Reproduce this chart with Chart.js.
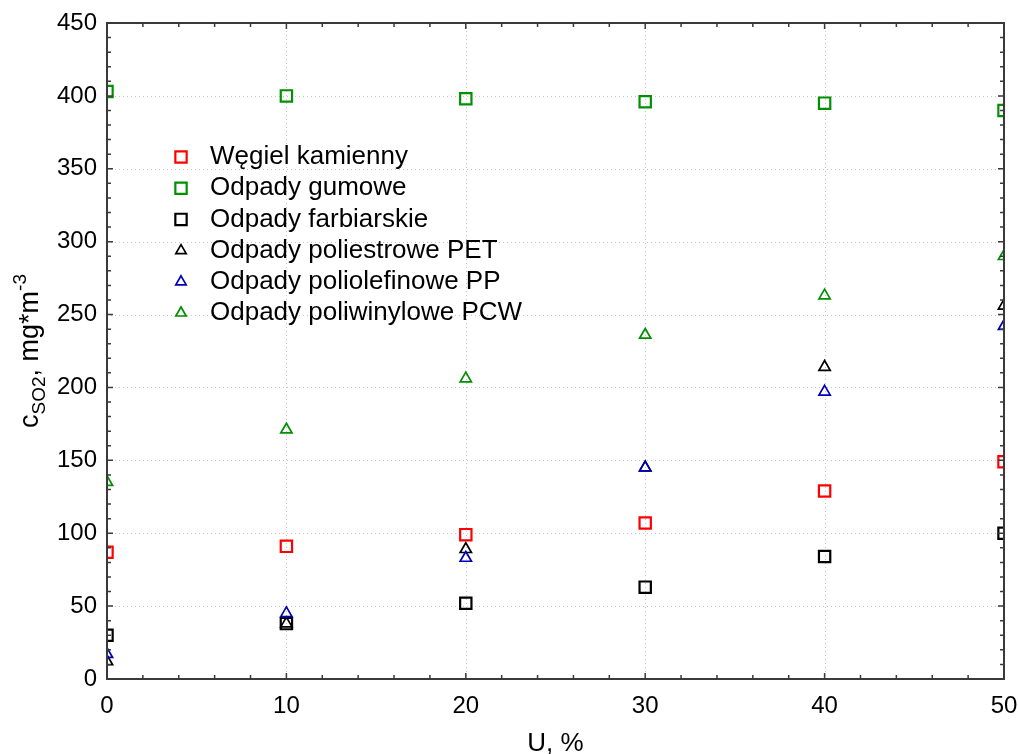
<!DOCTYPE html>
<html>
<head>
<meta charset="utf-8">
<script src="https://cdn.jsdelivr.net/npm/chart.js@4"></script>
<style>
  html, body { margin: 0; padding: 0; background: #fff; }
  #wrap { width: 1018px; height: 754px; }
</style>
</head>
<body>
<div id="wrap"><canvas id="wykres"></canvas></div>
<script>
// udział odpadu U, %
const udzial = [0, 10, 20, 30, 40, 50];

// stężenie SO2, mg/m3
const wegiel        = [87, 91, 99, 107, 129, 149];
const gumowe        = [403, 400, 398, 396, 395, 390];
const farbiarskie   = [30, 38, 52, 63, 84, 100];
const poliestrowe   = [12, 38, 89, 145, 214, 256];
const poliolefinowe = [17, 45, 83, 145, 197, 242];
const poliwinylowe  = [135, 171, 206, 236, 263, 290];

const FONT = '"Liberation Sans", Arial, sans-serif';

function punkty(wartosci) {
    return udzial.map((u, i) => ({ x: u, y: wartosci[i] }));
}

function seria(nazwa, wartosci, kolor, ksztalt, kolejnosc) {
    return {
        label: nazwa,
        data: punkty(wartosci),
        pointStyle: ksztalt,
        pointRadius: ksztalt === 'rect' ? 8 : 6.5,
        pointBorderWidth: ksztalt === 'rect' ? 2.2 : 1.7,
        borderColor: kolor,
        backgroundColor: 'rgba(0,0,0,0)',
        pointBackgroundColor: 'rgba(0,0,0,0)',
        showLine: false,
        clip: 0,
        order: kolejnosc || 0
    };
}

// ramka, znaczniki osi, siatka kropkowana, legenda i opisy osi
const dodatki = {
    id: 'dodatki',
    beforeDatasetsDraw(chart) {
        const { ctx, chartArea: a, scales: { x, y } } = chart;
        ctx.save();
        ctx.strokeStyle = '#c4c4c4';
        ctx.lineWidth = 1;
        ctx.setLineDash([1, 3]);
        for (let v = 10; v < 50; v += 10) {
            const px = Math.round(x.getPixelForValue(v)) + 0.5;
            ctx.beginPath(); ctx.moveTo(px, a.top); ctx.lineTo(px, a.bottom); ctx.stroke();
        }
        for (let v = 50; v < 450; v += 50) {
            const py = Math.round(y.getPixelForValue(v)) + 0.5;
            ctx.beginPath(); ctx.moveTo(a.left, py); ctx.lineTo(a.right, py); ctx.stroke();
        }
        ctx.restore();
    },
    afterDatasetsDraw(chart) {
        const { ctx, chartArea: a, scales: { x, y } } = chart;
        ctx.save();
        ctx.strokeStyle = '#3a3a3a';
        ctx.lineWidth = 2;
        ctx.strokeRect(a.left, a.top, a.right - a.left, a.bottom - a.top);

        ctx.lineWidth = 1.5;
        for (let v = 0; v <= 50; v += 2) {
            const px = x.getPixelForValue(v);
            const dl = v % 10 === 0 ? 6 : 4;
            ctx.beginPath();
            ctx.moveTo(px, a.bottom); ctx.lineTo(px, a.bottom - dl);
            ctx.moveTo(px, a.top); ctx.lineTo(px, a.top + dl);
            ctx.stroke();
        }
        for (let v = 0; v <= 450; v += 10) {
            const py = y.getPixelForValue(v);
            const dl = v % 50 === 0 ? 6 : 4;
            ctx.beginPath();
            ctx.moveTo(a.left, py); ctx.lineTo(a.left + dl, py);
            ctx.moveTo(a.right, py); ctx.lineTo(a.right - dl, py);
            ctx.stroke();
        }

        // legenda
        const lx = 181, ly = 157, krok = 31.2;
        chart.data.datasets.forEach((ds, i) => {
            const yy = ly + i * krok;
            ctx.strokeStyle = ds.borderColor;
            ctx.fillStyle = 'rgba(0,0,0,0)';
            ctx.lineWidth = ds.pointBorderWidth;
            Chart.helpers.drawPoint(ctx, {
                pointStyle: ds.pointStyle,
                radius: ds.pointStyle === 'rect' ? 8 : 6,
                rotation: 0,
                borderWidth: ds.pointBorderWidth
            }, lx, yy);
            ctx.fillStyle = '#000';
            ctx.font = '26px ' + FONT;
            ctx.textBaseline = 'middle';
            ctx.textAlign = 'left';
            ctx.fillText(ds.label, 210, yy);
        });

        // opis osi X
        ctx.fillStyle = '#000';
        ctx.textAlign = 'center';
        ctx.textBaseline = 'alphabetic';
        ctx.font = '26px ' + FONT;
        ctx.fillText('U, %', (a.left + a.right) / 2, 751);

        // opis osi Y z indeksem dolnym i górnym
        const czesci = [
            { t: 'c', f: 27, dy: 0 },
            { t: 'SO2', f: 19, dy: 7 },
            { t: ', mg*m', f: 27, dy: 0 },
            { t: '-3', f: 19, dy: -12 }
        ];
        let szer = 0;
        czesci.forEach(c => { ctx.font = c.f + 'px ' + FONT; c.w = ctx.measureText(c.t).width; szer += c.w; });
        ctx.translate(38, (a.top + a.bottom) / 2);
        ctx.rotate(-Math.PI / 2);
        ctx.textAlign = 'left';
        let px = -szer / 2;
        czesci.forEach(c => {
            ctx.font = c.f + 'px ' + FONT;
            ctx.fillText(c.t, px, c.dy);
            px += c.w;
        });
        ctx.restore();
    }
};

new Chart(document.getElementById('wykres'), {
    type: 'scatter',
    data: {
        datasets: [
            seria('Węgiel kamienny', wegiel, '#ff0000', 'rect'),
            seria('Odpady gumowe', gumowe, '#009000', 'rect'),
            seria('Odpady farbiarskie', farbiarskie, '#000000', 'rect'),
            seria('Odpady poliestrowe PET', poliestrowe, '#000000', 'triangle'),
            seria('Odpady poliolefinowe PP', poliolefinowe, '#0000b4', 'triangle', -1),
            seria('Odpady poliwinylowe PCW', poliwinylowe, '#009000', 'triangle')
        ]
    },
    options: {
        responsive: true,
        maintainAspectRatio: false,
        animation: false,
        events: [],
        layout: { padding: { top: 23, right: 14, left: 0, bottom: 0 } },
        plugins: {
            legend: { display: false },
            tooltip: { enabled: false }
        },
        scales: {
            x: {
                type: 'linear',
                min: 0, max: 50,
                afterFit(s) { s.height = 75; s.paddingLeft = 0; s.paddingRight = 0; },
                grid: { display: false, drawTicks: false },
                border: { display: false },
                ticks: { stepSize: 10, color: '#000', padding: 13, font: { size: 24, family: FONT } }
            },
            y: {
                type: 'linear',
                min: 0, max: 450,
                afterFit(s) { s.width = 107; s.paddingTop = 0; s.paddingBottom = 0; },
                grid: { display: false, drawTicks: false },
                border: { display: false },
                ticks: { stepSize: 50, color: '#000', padding: 10, font: { size: 24, family: FONT } }
            }
        }
    },
    plugins: [dodatki]
});
</script>
</body>
</html>
